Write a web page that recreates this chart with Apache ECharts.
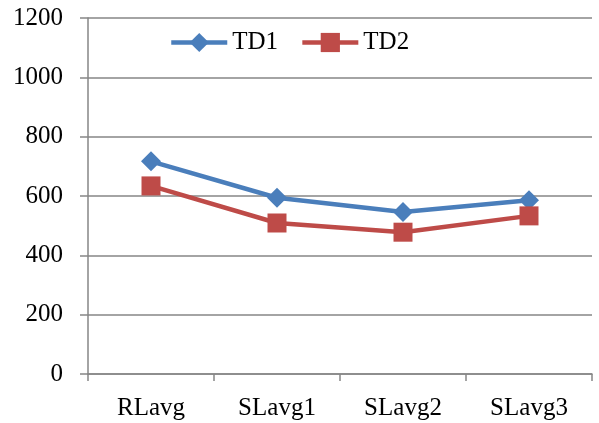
<!DOCTYPE html>
<html><head><meta charset="utf-8">
<script src="https://cdn.jsdelivr.net/npm/echarts@6/dist/echarts.min.js"></script>
<style>html,body{margin:0;padding:0;background:#fff}#c{width:599px;height:423px}</style>
</head><body><div id="c"></div>
<script>
const categories = ['RLavg', 'SLavg1', 'SLavg2', 'SLavg3'];
const td1 = [717, 594, 546, 586];
const td2 = [634, 509, 478, 533];
const yTicks = { min: 0, max: 1200, interval: 200 };

const chart = echarts.init(document.getElementById('c'));
const font = '"Liberation Serif","Times New Roman",serif';
chart.setOption({
  animation: false,
  backgroundColor: '#fff',
  textStyle: { fontFamily: font },
  grid: { left: 88, right: 7, top: 18, bottom: 49 },
  legend: {
    top: 25, left: 164,
    itemGap: 22, itemWidth: 56, itemHeight: 24,
    lineStyle: { width: 4.5 },
    textStyle: { fontFamily: font, fontSize: 25, color: '#000' },
    data: ['TD1', 'TD2']
  },
  xAxis: {
    type: 'category', data: categories, boundaryGap: true,
    axisLine: { lineStyle: { color: '#868686', width: 1.5 } },
    axisTick: { show: true, length: 7, lineStyle: { color: '#868686', width: 1.5 } },
    axisLabel: { fontFamily: font, fontSize: 25, color: '#000', margin: 22 }
  },
  yAxis: {
    type: 'value', min: yTicks.min, max: yTicks.max, interval: yTicks.interval,
    axisLine: { show: true, lineStyle: { color: '#868686', width: 1.5 } },
    axisTick: { show: true, inside: false, length: 8, lineStyle: { color: '#868686', width: 1.5 } },
    axisLabel: { fontFamily: font, fontSize: 25, color: '#000', margin: 25, formatter: v => String(v) },
    splitLine: { lineStyle: { color: '#868686', width: 1.5 } }
  },
  series: [
    { name: 'TD1', type: 'line', data: td1, symbol: 'diamond', symbolSize: 20,
      color: '#4A7EBB', lineStyle: { width: 4.5, color: '#4A7EBB' }, itemStyle: { color: '#4A7EBB' } },
    { name: 'TD2', type: 'line', data: td2, symbol: 'rect', symbolSize: 19,
      color: '#BE4B48', lineStyle: { width: 4.5, color: '#BE4B48' }, itemStyle: { color: '#BE4B48' } }
  ]
});
</script></body></html>
